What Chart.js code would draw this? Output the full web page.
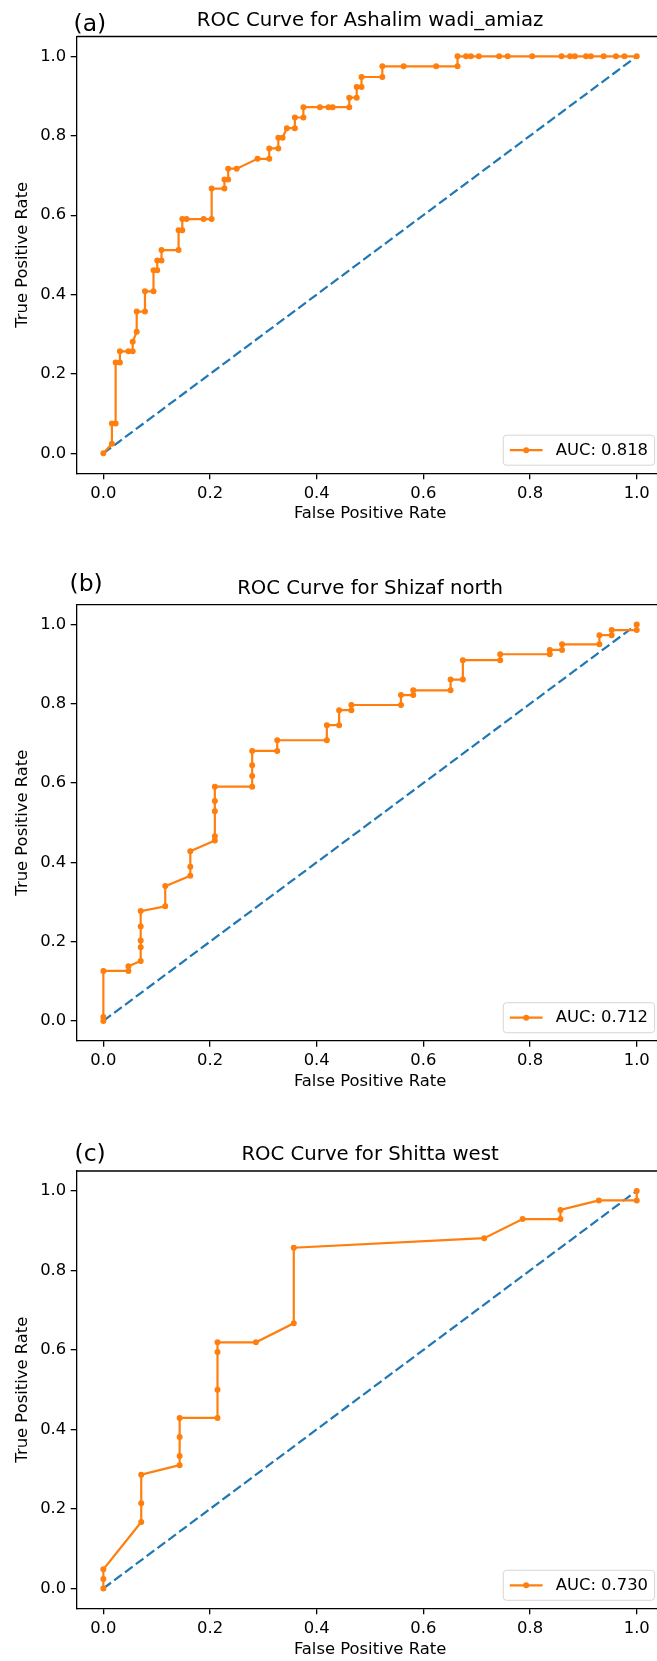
<!DOCTYPE html>
<html>
<head>
<meta charset="utf-8">
<title>ROC Curves</title>
<script src="https://cdn.jsdelivr.net/npm/chart.js"></script>
<style>
  html, body { margin: 0; padding: 0; background: #fff; overflow: hidden; }
  #page { position: relative; width: 657px; height: 1661px; overflow: hidden; font-family: "DejaVu Sans", sans-serif; color: #000; }
  .panel { position: absolute; left: 0; width: 700px; }
  .panel canvas { position: absolute; left: 0; top: 0; }
  .tag { position: absolute; font-size: 23.5px; line-height: 23.5px; white-space: nowrap; }
  .plot-title { position: absolute; left: 76.7px; width: 586.7px; text-align: center; font-size: 19.7px; line-height: 19.7px; white-space: nowrap; }
</style>
</head>
<body>
<div id="page"></div>
<script>
// Axis ticks and the chance diagonal
const tickValues = [0.0, 0.2, 0.4, 0.6, 0.8, 1.0];
const chanceFpr = [0, 1];
const chanceTpr = [0, 1];

const titles = ["ROC Curve for Ashalim wadi_amiaz", "ROC Curve for Shizaf north", "ROC Curve for Shitta west"];
const panelTags = ["(a)", "(b)", "(c)"];
const aucLabels = ["AUC: 0.818", "AUC: 0.712", "AUC: 0.730"];

// (a) Ashalim wadi_amiaz
const fprA = [0, 0.016, 0.016, 0.023, 0.023, 0.031, 0.031, 0.047, 0.055, 0.055, 0.0625, 0.0625, 0.078, 0.078,
  0.094, 0.094, 0.101, 0.101, 0.109, 0.109, 0.141, 0.141, 0.148, 0.148, 0.156, 0.188, 0.203, 0.203, 0.227, 0.227,
  0.234, 0.234, 0.25, 0.289, 0.311, 0.311, 0.328, 0.328, 0.336, 0.344, 0.359, 0.359, 0.375, 0.375, 0.406, 0.422,
  0.43, 0.461, 0.461, 0.475, 0.475, 0.484, 0.484, 0.523, 0.523, 0.563, 0.624, 0.664, 0.664, 0.68, 0.689, 0.704,
  0.742, 0.758, 0.804, 0.859, 0.875, 0.884, 0.905, 0.914, 0.938, 0.961, 0.977, 1.0];
const tprA = [0, 0.024, 0.075, 0.075, 0.229, 0.229, 0.257, 0.257, 0.257, 0.281, 0.306, 0.357, 0.357, 0.408,
  0.408, 0.461, 0.461, 0.486, 0.486, 0.512, 0.512, 0.562, 0.562, 0.59, 0.59, 0.59, 0.59, 0.667, 0.667, 0.69,
  0.69, 0.717, 0.717, 0.742, 0.742, 0.768, 0.768, 0.795, 0.795, 0.819, 0.819, 0.846, 0.846, 0.872, 0.872, 0.872,
  0.872, 0.872, 0.896, 0.896, 0.923, 0.923, 0.948, 0.948, 0.975, 0.975, 0.975, 0.975, 1.0, 1.0, 1.0, 1.0,
  1.0, 1.0, 1.0, 1.0, 1.0, 1.0, 1.0, 1.0, 1.0, 1.0, 1.0, 1.0];

// (b) Shizaf north
const fprB = [0, 0, 0, 0.047, 0.047, 0.07, 0.07, 0.07, 0.07, 0.07, 0.116, 0.116, 0.163, 0.163, 0.163, 0.209,
  0.209, 0.209, 0.209, 0.209, 0.279, 0.279, 0.279, 0.279, 0.326, 0.326, 0.419, 0.419, 0.442, 0.442, 0.465, 0.465,
  0.558, 0.558, 0.581, 0.581, 0.651, 0.651, 0.674, 0.674, 0.744, 0.744, 0.837, 0.837, 0.86, 0.86, 0.93, 0.93,
  0.953, 0.953, 1.0, 1.0];
const tprB = [0, 0.01, 0.126, 0.126, 0.138, 0.151, 0.186, 0.203, 0.238, 0.277, 0.289, 0.34, 0.366, 0.389, 0.428,
  0.455, 0.466, 0.529, 0.555, 0.591, 0.591, 0.618, 0.645, 0.681, 0.681, 0.708, 0.708, 0.746, 0.746, 0.784, 0.784,
  0.797, 0.797, 0.822, 0.822, 0.834, 0.834, 0.861, 0.861, 0.91, 0.91, 0.925, 0.925, 0.936, 0.936, 0.95, 0.95,
  0.973, 0.973, 0.986, 0.986, 1.0];

// (c) Shitta west
const fprC = [0, 0, 0, 0.071, 0.071, 0.071, 0.143, 0.143, 0.143, 0.143, 0.214, 0.214, 0.214, 0.214, 0.286,
  0.357, 0.357, 0.714, 0.786, 0.857, 0.857, 0.929, 1.0, 1.0];
const tprC = [0, 0.024, 0.048, 0.167, 0.214, 0.286, 0.31, 0.333, 0.381, 0.429, 0.429, 0.5, 0.595, 0.619, 0.619,
  0.667, 0.857, 0.881, 0.929, 0.929, 0.952, 0.976, 0.976, 1.0];

document.addEventListener("DOMContentLoaded", function () {
    const FONT = '"DejaVu Sans", sans-serif';
    const ORANGE = "#ff7f0e";
    const BLUE = "#1f77b4";
    const CANVAS_W = 700;     // wider than the page: right spine falls off the picture like the original
    const PLOT_LEFT = 76.7;
    const PLOT_RIGHT = 663.4;
    const XAXIS_H = 52;
    const TAG_SIZE = 23.5;

    // where each panel sits on the page
    const layout = [
        { top: 0,    height: 540, plotTop: 36.5,  plotBottom: 473.2,  tagX: 73.5, tagBase: 32 },
        { top: 540,  height: 565, plotTop: 604.7, plotBottom: 1040.7, tagX: 69.5, tagBase: 591.6 },
        { top: 1105, height: 556, plotTop: 1171,  plotBottom: 1608.3, tagX: 74.5, tagBase: 1162.3 }
    ];
    const series = [[fprA, tprA], [fprB, tprB], [fprC, tprC]];

    // top + right spines
    const frameBox = {
        id: "frameBox",
        afterDraw(chart) {
            const { ctx, chartArea: a } = chart;
            ctx.save();
            ctx.strokeStyle = "#000";
            ctx.lineWidth = 1.3;
            ctx.beginPath();
            ctx.moveTo(a.left, a.top);
            ctx.lineTo(a.right, a.top);
            ctx.lineTo(a.right, a.bottom);
            ctx.stroke();
            ctx.restore();
        }
    };

    // matplotlib-style legend in the lower right corner of the axes
    const innerLegend = {
        id: "innerLegend",
        afterDraw(chart) {
            const ds = chart.data.datasets[0];
            const { ctx, chartArea: a } = chart;
            const fs = 16.4;
            ctx.save();
            ctx.font = fs + "px " + FONT;
            const textW = ctx.measureText(ds.label).width;
            const pad = 0.4 * fs, handle = 2 * fs, gap = 0.8 * fs;
            const w = pad + handle + gap + textW + pad, h = 30;
            const right = a.right - 8.8, bottom = a.bottom - 8;
            const left = right - w, top = bottom - h, cy = top + h / 2;

            ctx.beginPath();
            ctx.roundRect(left, top, w, h, 3.3);
            ctx.fillStyle = "rgba(255,255,255,0.8)";
            ctx.fill();
            ctx.strokeStyle = "rgba(204,204,204,0.8)";
            ctx.lineWidth = 1;
            ctx.stroke();

            ctx.strokeStyle = ds.borderColor;
            ctx.lineWidth = ds.borderWidth;
            ctx.beginPath();
            ctx.moveTo(left + pad, cy);
            ctx.lineTo(left + pad + handle, cy);
            ctx.stroke();
            ctx.beginPath();
            ctx.arc(left + pad + handle / 2, cy, ds.pointRadius + ds.pointBorderWidth / 2, 0, Math.PI * 2);
            ctx.fillStyle = ds.pointBackgroundColor;
            ctx.fill();

            ctx.fillStyle = "#000";
            ctx.textBaseline = "middle";
            ctx.fillText(ds.label, left + pad + handle + gap, cy + 0.5);
            ctx.restore();
        }
    };

    const page = document.querySelector("#page");

    layout.forEach((p, i) => {
        const panel = document.createElement("div");
        panel.className = "panel";
        panel.style.top = p.top + "px";
        panel.style.height = p.height + "px";

        const canvas = document.createElement("canvas");
        canvas.width = CANVAS_W;
        canvas.height = p.height;
        panel.appendChild(canvas);

        const tag = document.createElement("div");
        tag.className = "tag";
        tag.textContent = panelTags[i];
        tag.style.left = p.tagX + "px";
        tag.style.top = (p.tagBase - p.top - 0.846 * TAG_SIZE) + "px";
        panel.appendChild(tag);

        const title = document.createElement("div");
        title.className = "plot-title";
        title.textContent = titles[i];
        title.style.top = (p.plotTop - 10.3 - p.top - 0.846 * 19.7) + "px";
        panel.appendChild(title);

        page.appendChild(panel);

        const [fpr, tpr] = series[i];
        const tickFont = { family: FONT, size: 16.4 };

        new Chart(canvas.getContext("2d"), {
            type: "scatter",
            data: {
                datasets: [
                    {
                        label: aucLabels[i],
                        data: fpr.map((x, k) => ({ x, y: tpr[k] })),
                        showLine: true,
                        borderColor: ORANGE,
                        backgroundColor: ORANGE,
                        borderWidth: 2.2,
                        pointRadius: 2.4,
                        pointBorderWidth: 1.2,
                        pointBackgroundColor: ORANGE,
                        pointBorderColor: ORANGE,
                        tension: 0
                    },
                    {
                        label: "chance",
                        data: chanceFpr.map((x, k) => ({ x, y: chanceTpr[k] })),
                        showLine: true,
                        borderColor: BLUE,
                        borderWidth: 2.2,
                        borderDash: [9.5, 4],
                        pointRadius: 0,
                        tension: 0
                    }
                ]
            },
            options: {
                responsive: false,
                animation: false,
                events: [],
                layout: {
                    padding: {
                        left: 0,
                        right: CANVAS_W - PLOT_RIGHT,
                        top: p.plotTop - p.top,
                        bottom: p.top + p.height - p.plotBottom - XAXIS_H
                    }
                },
                plugins: { legend: { display: false }, tooltip: { enabled: false }, title: { display: false } },
                scales: {
                    x: {
                        type: "linear",
                        min: -0.05,
                        max: 1.05,
                        afterBuildTicks: s => { s.ticks = tickValues.map(v => ({ value: v })); },
                        afterFit: s => { s.height = XAXIS_H; },
                        ticks: { callback: v => v.toFixed(1), color: "#000", font: tickFont, padding: 4.5, maxRotation: 0, autoSkip: false },
                        grid: { drawOnChartArea: false, color: "#000", tickLength: 6, lineWidth: 1.3 },
                        border: { color: "#000", width: 1.3 },
                        title: { display: true, text: "False Positive Rate", color: "#000", font: tickFont, padding: { top: 0, bottom: 1.2 } }
                    },
                    y: {
                        type: "linear",
                        min: -0.05,
                        max: 1.05,
                        afterBuildTicks: s => { s.ticks = tickValues.map(v => ({ value: v })); },
                        afterFit: s => { s.width = PLOT_LEFT; },
                        ticks: { callback: v => v.toFixed(1), color: "#000", font: tickFont, padding: 4.5, autoSkip: false },
                        grid: { drawOnChartArea: false, color: "#000", tickLength: 6, lineWidth: 1.3 },
                        border: { color: "#000", width: 1.3 },
                        title: { display: true, text: "True Positive Rate", color: "#000", font: tickFont, padding: { top: 12.7, bottom: 0 } }
                    }
                }
            },
            plugins: [frameBox, innerLegend]
        });
    });
});
</script>
</body>
</html>
